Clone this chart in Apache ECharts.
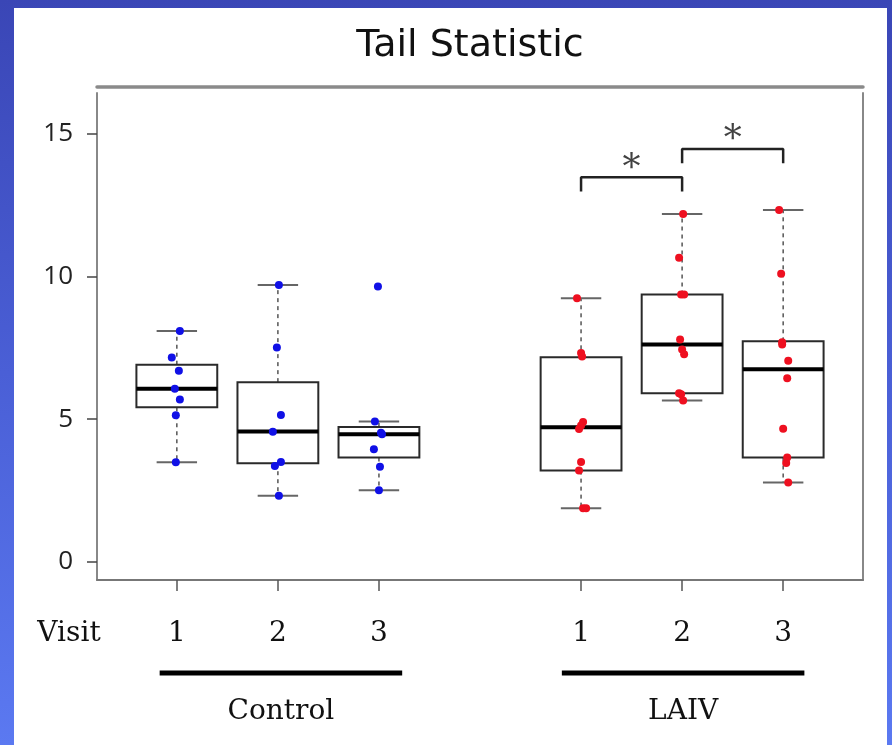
<!DOCTYPE html>
<html><head><meta charset="utf-8">
<script src="https://cdn.jsdelivr.net/npm/echarts@6/dist/echarts.min.js"></script>
<style>
html,body{margin:0;padding:0;width:892px;height:745px;overflow:hidden;background:linear-gradient(to bottom,#3a46b6 0%,#4a5fd6 50%,#5b79f1 100%);}
#panel{position:absolute;left:14px;top:8px;width:873px;height:737px;background:#fff;}
#chart{position:absolute;left:0;top:0;width:892px;height:745px;}
</style></head><body><div id="panel"></div><div id="chart"></div>
<script>
// ---- data ----
const titleText = 'Tail Statistic';
const groupNames = ['Control', 'LAIV'];
const visitPos = [1, 2, 3, 5, 6, 7];
const visitLabels = ['1', '2', '3', '1', '2', '3'];
const yTicks = [0, 5, 10, 15];

// box statistics per visit (whisker low, Q1, median, Q3, whisker high)
const boxLow  = [3.49, 2.32, 2.51, 1.88, 5.66, 2.78];
const boxQ1   = [5.42, 3.46, 3.66, 3.20, 5.91, 3.66];
const boxMed  = [6.07, 4.57, 4.47, 4.72, 7.62, 6.75];
const boxQ3   = [6.91, 6.30, 4.73, 7.17, 9.37, 7.73];
const boxHigh = [8.09, 9.70, 4.92, 9.24, 12.19, 12.33];

// individual subjects (values) and their horizontal jitter (in visit units)
const ctrlV1 = [8.09, 7.16, 6.70, 6.07, 5.69, 5.14, 3.49];
const ctrlV1Jit = [0.03, -0.05, 0.02, -0.02, 0.03, -0.01, -0.01];
const ctrlV2 = [9.70, 7.51, 5.15, 4.56, 3.50, 3.36, 2.32];
const ctrlV2Jit = [0.01, -0.01, 0.03, -0.05, 0.03, -0.03, 0.01];
const ctrlV3 = [9.65, 4.92, 4.53, 4.47, 3.95, 3.34, 2.51];
const ctrlV3Jit = [-0.01, -0.04, 0.02, 0.03, -0.05, 0.01, 0.00];
const laivV1 = [9.24, 7.32, 7.20, 4.90, 4.78, 4.66, 3.50, 3.20, 1.88, 1.88];
const laivV1Jit = [-0.04, 0.00, 0.01, 0.02, 0.00, -0.02, 0.00, -0.02, 0.02, 0.05];
const laivV2 = [12.19, 10.66, 9.37, 9.37, 7.79, 7.44, 7.28, 5.91, 5.88, 5.66];
const laivV2Jit = [0.01, -0.03, -0.01, 0.02, -0.02, 0.00, 0.02, -0.03, -0.01, 0.01];
const laivV3 = [12.33, 10.10, 7.70, 7.62, 7.05, 6.44, 4.67, 3.66, 3.47, 2.78];
const laivV3Jit = [-0.04, -0.02, -0.01, -0.01, 0.05, 0.04, 0.00, 0.04, 0.03, 0.05];

// significance brackets
const sigFrom = [5, 6];
const sigTo = [6, 7];
const sigHeight = [13.48, 14.47];
const sigLegDrop = 0.5;
const sigText = ['*', '*'];

// ---- build ----
function pts(pos, vals, jit) { return vals.map((v, i) => [pos + jit[i], v]); }
const ctrlPoints = [].concat(pts(1, ctrlV1, ctrlV1Jit), pts(2, ctrlV2, ctrlV2Jit), pts(3, ctrlV3, ctrlV3Jit));
const laivPoints = [].concat(pts(5, laivV1, laivV1Jit), pts(6, laivV2, laivV2Jit), pts(7, laivV3, laivV3Jit));
const boxData = visitPos.map((p, i) => [p, boxLow[i], boxQ1[i], boxMed[i], boxQ3[i], boxHigh[i]]);

const X_MIN = 0.21, X_MAX = 7.79, Y_MIN = -0.632, Y_MAX = 16.43;

function renderBox(params, api) {
  const x = api.value(0);
  const lo = api.coord([x, api.value(1)]);
  const q1 = api.coord([x, api.value(2)]);
  const md = api.coord([x, api.value(3)]);
  const q3 = api.coord([x, api.value(4)]);
  const hi = api.coord([x, api.value(5)]);
  const bw = api.size([0.8, 0])[0];
  const cw = api.size([0.4, 0])[0];
  const cx = q1[0];
  const dash = {stroke: '#555', lineWidth: 1.5, lineDash: [4, 4]};
  const cap = {stroke: '#666', lineWidth: 2};
  return {type: 'group', children: [
    {type: 'line', shape: {x1: cx, y1: q3[1], x2: cx, y2: hi[1]}, style: dash},
    {type: 'line', shape: {x1: cx, y1: q1[1], x2: cx, y2: lo[1]}, style: dash},
    {type: 'line', shape: {x1: cx - cw / 2, y1: hi[1], x2: cx + cw / 2, y2: hi[1]}, style: cap},
    {type: 'line', shape: {x1: cx - cw / 2, y1: lo[1], x2: cx + cw / 2, y2: lo[1]}, style: cap},
    {type: 'rect', shape: {x: cx - bw / 2, y: q3[1], width: bw, height: q1[1] - q3[1]}, style: {fill: 'rgba(255,255,255,0)', stroke: '#2a2a2a', lineWidth: 2}},
    {type: 'line', shape: {x1: cx - bw / 2, y1: md[1], x2: cx + bw / 2, y2: md[1]}, style: {stroke: '#000', lineWidth: 4}}
  ]};
}

const bracketSeries = sigFrom.map((a, i) => ({
  type: 'line', xAxisIndex: 0, yAxisIndex: 0, symbol: 'none', silent: true, z: 5,
  lineStyle: {color: '#222', width: 2.5}, animation: false,
  data: [[a, sigHeight[i] - sigLegDrop], [a, sigHeight[i]], [sigTo[i], sigHeight[i]], [sigTo[i], sigHeight[i] - sigLegDrop]]
}));

const starSeries = {
  type: 'scatter', symbolSize: 0, silent: true, z: 6, animation: false,
  data: sigFrom.map((a, i) => ({value: [(a + sigTo[i]) / 2, sigHeight[i]], name: sigText[i]})),
  label: {show: true, position: 'top', distance: -10, formatter: p => p.name,
    fontFamily: 'DejaVu Serif', fontSize: 36, color: '#111'}
};

const chart = echarts.init(document.getElementById('chart'), null, {renderer: 'canvas'});
const option = {
  animation: false,
  backgroundColor: 'transparent',
  grid: {left: 97, right: 29, top: 93, bottom: 165, containLabel: false},
  xAxis: [
    {type: 'value', min: X_MIN, max: X_MAX, position: 'bottom',
      axisLine: {show: true, onZero: false, lineStyle: {color: '#777', width: 2}},
      axisTick: {show: true, customValues: visitPos, length: 11, lineStyle: {color: '#555', width: 1.5}},
      axisLabel: {show: true, customValues: visitPos, formatter: v => visitLabels[visitPos.indexOf(v)],
        fontFamily: 'DejaVu Serif', fontSize: 28, color: '#111', margin: 40},
      splitLine: {show: false}},
    {type: 'value', min: X_MIN, max: X_MAX, position: 'top', offset: 6,
      axisLine: {show: true, onZero: false, lineStyle: {color: '#8a8a8a', width: 3.5}},
      axisTick: {show: false}, axisLabel: {show: false}, splitLine: {show: false}}
  ],
  yAxis: [
    {type: 'value', min: Y_MIN, max: Y_MAX, position: 'left',
      axisLine: {show: true, onZero: false, lineStyle: {color: '#888', width: 2}},
      axisTick: {show: true, customValues: yTicks, length: 10, lineStyle: {color: '#444', width: 1.5}},
      axisLabel: {show: true, customValues: yTicks, fontFamily: 'Open Sans', fontSize: 26, color: '#222', margin: 24},
      splitLine: {show: false}},
    {type: 'value', min: Y_MIN, max: Y_MAX, position: 'right',
      axisLine: {show: true, onZero: false, lineStyle: {color: '#888', width: 2}},
      axisTick: {show: false}, axisLabel: {show: false}, splitLine: {show: false}}
  ],
  series: [
    {type: 'custom', renderItem: renderBox, data: boxData, encode: {x: 0, y: [1, 2, 3, 4, 5]}, z: 2, silent: true},
    {type: 'scatter', data: ctrlPoints, symbolSize: 8, itemStyle: {color: '#1010e6', opacity: 1}, z: 4},
    {type: 'scatter', data: laivPoints, symbolSize: 8, itemStyle: {color: '#ee1020', opacity: 1}, z: 4},
    ...bracketSeries,
    starSeries
  ]
};
chart.setOption(option);

// decorations below the axis, placed through the axis scale
const groupCenter = [2.03, 6.01];
const groupHalfBar = 1.2;
const px = v => chart.convertToPixel({xAxisIndex: 0}, v);
const gfx = [
  {type: 'text', x: 470, y: 46, style: {text: titleText, fontFamily: 'DejaVu Sans', fontSize: 38, fill: '#111', align: 'center', verticalAlign: 'middle'}},
  {type: 'text', x: 69, y: 634, style: {text: 'Visit', fontFamily: 'DejaVu Serif', fontSize: 28, fill: '#111', align: 'center', verticalAlign: 'middle'}}
];
groupNames.forEach((g, i) => {
  gfx.push({type: 'line', shape: {x1: px(groupCenter[i] - groupHalfBar), y1: 673, x2: px(groupCenter[i] + groupHalfBar), y2: 673}, style: {stroke: '#000', lineWidth: 5}});
  gfx.push({type: 'text', x: px(groupCenter[i]), y: 712, style: {text: g, fontFamily: 'DejaVu Serif', fontSize: 28, fill: '#111', align: 'center', verticalAlign: 'middle'}});
});
chart.setOption({graphic: gfx});
</script></body></html>
